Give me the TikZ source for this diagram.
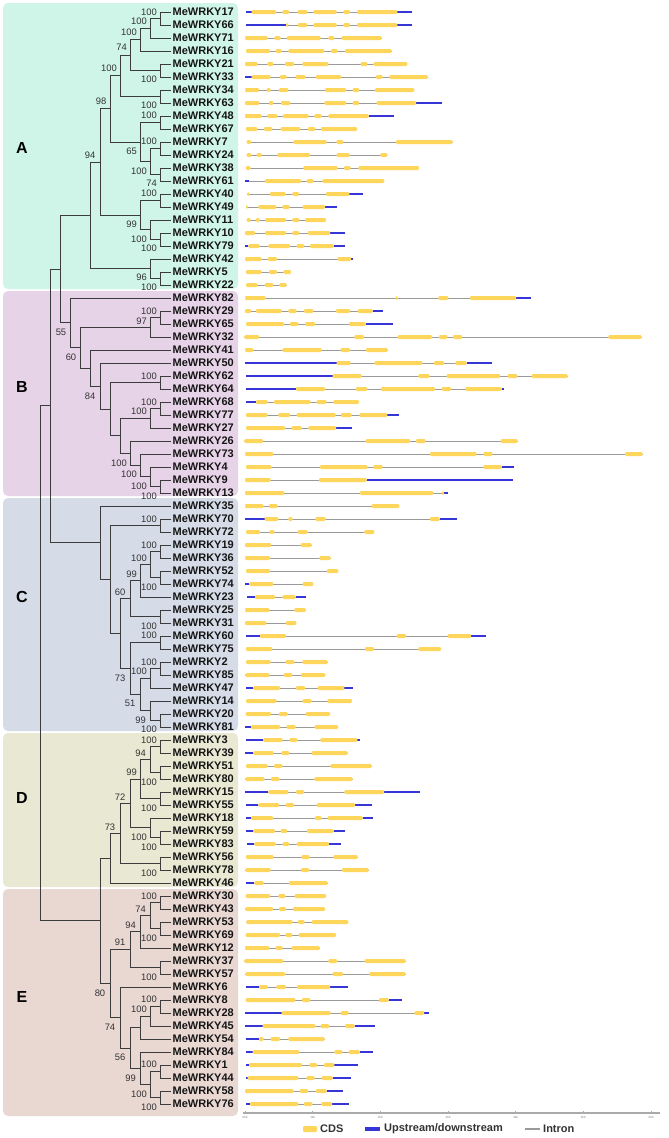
\documentclass[tikz,border=0pt]{standalone}
\usepackage{fontspec}
\setmainfont{Liberation Sans}
\definecolor{cA}{HTML}{CFF5E8}
\definecolor{cB}{HTML}{E7D3E7}
\definecolor{cC}{HTML}{D5DCE8}
\definecolor{cD}{HTML}{E8E8D3}
\definecolor{cE}{HTML}{E9D7D2}
\definecolor{exon}{HTML}{FFD65C}
\definecolor{utr}{HTML}{3636D8}
\definecolor{intr}{HTML}{9A9A9A}
\definecolor{brc}{HTML}{3C3C3C}
\definecolor{lab}{HTML}{151515}
\definecolor{bsc}{HTML}{333333}
\definecolor{axc}{HTML}{AAAAAA}
\newcommand{\clade}[3]{\draw[br] (#1) |- (#2); \draw[br] (#1) |- (#3);}
\newcommand{\gene}[5]{%
  \pgfmathsetmacro{\gy}{12+13*#1}%
  \draw[intronline] (#2,\gy) -- (#3,\gy);
  \foreach \ea/\eb in {#4}{\fill[utrbar] (\ea,\gy-1.4) rectangle (\eb,\gy+1.4);}
  \foreach \ea/\eb in {#5}{\fill[exonbar] (\ea,\gy-2) rectangle (\eb,\gy+2);}
}
\newcommand{\genex}[4]{%
  \pgfmathsetmacro{\gy}{12+13*#1}%
  \draw[intronline] (#2,\gy) -- (#3,\gy);
  \foreach \ea/\eb in {#4}{\fill[exonbar] (\ea,\gy-2) rectangle (\eb,\gy+2);}
}
\begin{document}
\begin{tikzpicture}[x=1pt,y=-1pt,
  br/.style={draw=brc,line width=0.9pt},
  leaf/.style={anchor=west,inner sep=1.5pt,font=\fontsize{11}{13}\selectfont\bfseries,text=lab},
  bsE/.style={anchor=east,inner sep=0pt,font=\fontsize{9.4}{11}\selectfont,text=bsc},
  bsC/.style={anchor=center,inner sep=0pt,font=\fontsize{9.4}{11}\selectfont,text=bsc},
  grp/.style={font=\fontsize{16}{18}\selectfont\bfseries,text=black},
  exonbar/.style={fill=exon,rounded corners=1.2pt},
  utrbar/.style={fill=utr},
  intronline/.style={draw=intr,line width=0.7pt},
  ticklab/.style={font=\fontsize{3}{3.5}\selectfont,text=gray,inner sep=0pt},
  legtext/.style={anchor=west,inner sep=0pt,font=\fontsize{11}{13}\selectfont\bfseries,text=bsc}]
\fill[white] (0,0) rectangle (669,1138);
\path[use as bounding box] (0,0) rectangle (669,1138);
% group backgrounds
\fill[cA,rounded corners=5pt] (3,3) rectangle (238,289);
\fill[cB,rounded corners=5pt] (3,291) rectangle (238,496);
\fill[cC,rounded corners=5pt] (3,498) rectangle (238,731);
\fill[cD,rounded corners=5pt] (3,733) rectangle (238,887);
\fill[cE,rounded corners=5pt] (3,889) rectangle (238,1116);
\node[grp] (gA) at (22,148) {A};
\node[grp] (gB) at (22,387) {B};
\node[grp] (gC) at (22,597) {C};
\node[grp] (gD) at (22,798) {D};
\node[grp] (gE) at (22,997) {E};
% leaves
\foreach \g [count=\i from 0] in {17,66,71,16,21,33,34,63,48,67,7,24,38,61,40,49,11,10,79,42,5,22,82,29,65,32,41,50,62,64,68,77,27,26,73,4,9,13,35,70,72,19,36,52,74,23,25,31,60,75,2,85,47,14,20,81,3,39,51,80,15,55,18,59,83,56,78,46,30,43,53,69,12,37,57,6,8,28,45,54,84,1,44,58,76}
  {\node[leaf] (L\g) at (171,{12+13*\i}) {MeWRKY\g};}
% clade A
\coordinate (n1) at (160,18.5);   \clade{n1}{L17.west}{L66.west}
\coordinate (n2) at (150,28.25);  \clade{n2}{n1}{L71.west}
\coordinate (n3) at (140,39.625); \clade{n3}{n2}{L16.west}
\coordinate (n4) at (160,70.5);   \clade{n4}{L21.west}{L33.west}
\coordinate (n5) at (130,55.06);  \clade{n5}{n3}{n4}
\coordinate (n6) at (160,96.5);   \clade{n6}{L34.west}{L63.west}
\coordinate (n7) at (120,75.78);  \clade{n7}{n5}{n6}
\coordinate (n8) at (160,122.5);  \clade{n8}{L48.west}{L67.west}
\coordinate (n9) at (160,148.5);  \clade{n9}{L7.west}{L24.west}
\coordinate (n10) at (160,174.5); \clade{n10}{L38.west}{L61.west}
\coordinate (n11) at (150,161.5); \clade{n11}{n9}{n10}
\coordinate (n12) at (140,142);   \clade{n12}{n8}{n11}
\coordinate (n13) at (110,108.89);\clade{n13}{n7}{n12}
\coordinate (n14) at (160,200.5); \clade{n14}{L40.west}{L49.west}
\coordinate (n15) at (160,239.5); \clade{n15}{L10.west}{L79.west}
\coordinate (n15b) at (150,229.75); \clade{n15b}{L11.west}{n15}
\coordinate (n15c) at (140,215.125);\clade{n15c}{n14}{n15b}
\coordinate (n16) at (100,162.0); \clade{n16}{n13}{n15c}
\coordinate (n17) at (160,278.5); \clade{n17}{L5.west}{L22.west}
\coordinate (n18) at (150,268.75);\clade{n18}{L42.west}{n17}
\coordinate (n19) at (90,215.4);  \clade{n19}{n16}{n18}
% clade B
\coordinate (b1) at (160,317.5);  \clade{b1}{L29.west}{L65.west}
\coordinate (b2) at (150,327.25); \clade{b2}{b1}{L32.west}
\coordinate (b3) at (160,382.5);  \clade{b3}{L62.west}{L64.west}
\coordinate (b4) at (160,408.5);  \clade{b4}{L68.west}{L77.west}
\coordinate (b5) at (150,418.25); \clade{b5}{b4}{L27.west}
\coordinate (b6) at (160,486.5);  \clade{b6}{L9.west}{L13.west}
\coordinate (b7) at (150,476.75); \clade{b7}{L4.west}{b6}
\coordinate (b8) at (140,465.375);\clade{b8}{L73.west}{b7}
\coordinate (b9) at (130,453.19); \clade{b9}{L26.west}{b8}
\coordinate (b10) at (120,435.72);\clade{b10}{b5}{b9}
\coordinate (b11) at (110,409.11);\clade{b11}{b3}{b10}
\coordinate (b12) at (100,386.05);\clade{b12}{L50.west}{b11}
\coordinate (b13) at (90,368.03); \clade{b13}{L41.west}{b12}
\coordinate (b14) at (80,347.64); \clade{b14}{b2}{b13}
\coordinate (b15) at (70,322.82); \clade{b15}{L82.west}{b14}
\coordinate (n20) at (60,269.1);  \clade{n20}{n19}{b15}
% clade C
\coordinate (ca) at (160,551.5);  \clade{ca}{L19.west}{L36.west}
\coordinate (cb) at (160,577.5);  \clade{cb}{L52.west}{L74.west}
\coordinate (cc) at (150,564.5);  \clade{cc}{ca}{cb}
\coordinate (cd) at (140,580.75); \clade{cd}{cc}{L23.west}
\coordinate (ce) at (160,616.5);  \clade{ce}{L25.west}{L31.west}
\coordinate (cf) at (130,598.625);\clade{cf}{cd}{ce}
\coordinate (cg) at (160,642.5);  \clade{cg}{L60.west}{L75.west}
\coordinate (ch) at (160,668.5);  \clade{ch}{L2.west}{L85.west}
\coordinate (ci) at (150,678.25); \clade{ci}{ch}{L47.west}
\coordinate (cj) at (160,720.5);  \clade{cj}{L20.west}{L81.west}
\coordinate (ck) at (150,710.75); \clade{ck}{L14.west}{cj}
\coordinate (cl) at (140,694.5);  \clade{cl}{ci}{ck}
\coordinate (cm) at (130,668.5);  \clade{cm}{cg}{cl}
\coordinate (cn) at (120,633.56); \clade{cn}{cf}{cm}
\coordinate (cp) at (160,525.5);  \clade{cp}{L70.west}{L72.west}
\coordinate (co) at (110,579.53); \clade{co}{cp}{cn}
\coordinate (cr) at (100,542.77); \clade{cr}{L35.west}{co}
\coordinate (n21) at (50,405.9);  \clade{n21}{n20}{cr}
% clade D
\coordinate (d1) at (160,746.5);  \clade{d1}{L3.west}{L39.west}
\coordinate (d2) at (160,772.5);  \clade{d2}{L51.west}{L80.west}
\coordinate (d3) at (150,759.5);  \clade{d3}{d1}{d2}
\coordinate (d4) at (160,798.5);  \clade{d4}{L15.west}{L55.west}
\coordinate (d5) at (140,779);    \clade{d5}{d3}{d4}
\coordinate (d6) at (160,837.5);  \clade{d6}{L59.west}{L83.west}
\coordinate (d7) at (150,827.75); \clade{d7}{L18.west}{d6}
\coordinate (d8) at (130,803.375);\clade{d8}{d5}{d7}
\coordinate (d9) at (160,863.5);  \clade{d9}{L56.west}{L78.west}
\coordinate (d10) at (120,833.44);\clade{d10}{d8}{d9}
\coordinate (d11) at (110,858.22);\clade{d11}{d10}{L46.west}
% clade E
\coordinate (e1) at (160,902.5);  \clade{e1}{L30.west}{L43.west}
\coordinate (e2) at (160,928.5);  \clade{e2}{L53.west}{L69.west}
\coordinate (e3) at (150,915.5);  \clade{e3}{e1}{e2}
\coordinate (e4) at (140,931.75); \clade{e4}{e3}{L12.west}
\coordinate (e5) at (160,967.5);  \clade{e5}{L37.west}{L57.west}
\coordinate (e6) at (130,949.625);\clade{e6}{e4}{e5}
\coordinate (e7) at (160,1006.5); \clade{e7}{L8.west}{L28.west}
\coordinate (e8) at (150,1016.25);\clade{e8}{e7}{L45.west}
\coordinate (e9) at (140,1027.625);\clade{e9}{e8}{L54.west}
\coordinate (e10) at (160,1071.5);\clade{e10}{L1.west}{L44.west}
\coordinate (e11) at (160,1097.5);\clade{e11}{L58.west}{L76.west}
\coordinate (e12) at (150,1084.5);\clade{e12}{e10}{e11}
\coordinate (e13) at (140,1068.25);\clade{e13}{L84.west}{e12}
\coordinate (e14) at (130,1047.94);\clade{e14}{e9}{e13}
\coordinate (e15) at (120,1017.47);\clade{e15}{L6.west}{e14}
\coordinate (e16) at (110,983.55);\clade{e16}{e6}{e15}
\coordinate (de) at (100,920.89); \clade{de}{d11}{e16}
\coordinate (root) at (40,663.4); \clade{root}{n21}{de}
% bootstrap values
\foreach \bx/\by/\bt [count=\k] in {157/12/100,147/21/100,137/32/100,127/47/74,117/68/100,157/79/100,157/105/100,157/115/100,157/141/100,137/151/65,147/171/100,157/183/74,157/193/100,137/224/99,147/239/100,157/248/100,147/277/96,157/287/100,
157/311/100,147/321/97,157/376/100,157/402/100,147/411/100,127/463/100,137/474/100,147/486/100,157/496/100,
157/519/100,157/545/100,147/558/100,137/574/99,157/587/100,157/626/100,157/635/100,157/662/100,147/671/100,146/720/99,157/729/100,
157/740/100,146/753/94,137/772/99,157/782/100,157/808/100,147/837/100,157/847/100,157/873/100,
157/896/100,146/909/74,136/925/94,157/938/100,157/977/100,157/999/100,147/1009/100,157/1064/100,136/1078/99,147/1094/100,157/1107/100}
  {\node[bsE] (bs\k) at (\bx,\by) {\bt};}
\foreach \bx/\by/\bt [count=\k] in {101/101/98,90/155/94,61/332/55,71/357/60,90/396/84,120/592/60,120/678/73,130/703/51,120/797/72,110/827/73,120/942/91,100/993/80,110/1027/74,120/1057/56}
  {\node[bsC] (bc\k) at (\bx,\by) {\bt};}
% gene structures
\begin{scope}[xshift=230pt,x=0.33333pt]
\gene{0}{48}{545}{48/65,502/545}{65/138,157/177,203/232,250/320,340/360,381/502}
\gene{1}{48}{545}{48/168,502/545}{168/175,203/232,250/320,340/360,381/502}
\genex{2}{45}{455}{45/113,133/152,170/272,295/313,335/455}
\genex{3}{48}{485}{48/120,137/155,175/283,303/323,345/485}
\genex{4}{45}{532}{45/83,112/130,165/192,217/295,392/412,430/532}
\gene{5}{45}{593}{45/65}{65/122,150/170,197/227,258/333,438/458,478/593}
\genex{6}{45}{553}{45/87,110/122,147/175,285/348,368/387,435/553}
\gene{7}{45}{637}{558/637}{45/88,117/130,153/181,283/348,368/387,440/558}
\gene{8}{45}{492}{416/492}{45/95,112/142,159/236,253/275,295/416}
\genex{9}{48}{381}{48/82,102/127,152/211,234/256,273/381}
\genex{10}{50}{668}{50/63,190/290,319/340,498/668}
\genex{11}{50}{472}{50/64,80/95,142/240,320/359,451/472}
\genex{12}{48}{567}{48/62,220/323,342/362,385/567}
\gene{13}{45}{463}{45/58}{105/213,230/251,277/463}
\gene{14}{52}{400}{358/400}{52/57,120/167,187/207,288/358}
\gene{15}{48}{320}{285/320}{48/53,85/139,157/179,218/285}
\genex{16}{50}{288}{50/62,78/89,105/168,187/208,225/288}
\gene{17}{45}{345}{300/345}{45/75,105/168,187/208,233/300}
\gene{18}{45}{345}{45/55,311/345}{55/89,115/180,200/222,240/311}
\gene{19}{45}{368}{363/368}{45/95,113/141,323/363}
\genex{20}{48}{183}{48/95,117/141,160/183}
\genex{21}{48}{170}{48/83,104/130,148/170}
\gene{22}{45}{902}{858/902}{45/107,497/503,625/655,720/858}
\gene{23}{45}{458}{428/458}{45/63,78/155,175/200,222/250,318/360,383/428}
\gene{24}{48}{488}{407/488}{48/162,180/205,225/255,357/407}
\genex{25}{43}{1235}{43/87,373/402,503/606,627/652,669/697,1135/1235}
\genex{26}{45}{473}{45/70,157/275,332/360,408/473}
\gene{27}{45}{785}{45/320,710/785}{320/362,433/577,612/642,676/710}
\gene{28}{48}{1013}{48/308}{308/395,565/599,650/810,833/862,905/1013}
\gene{29}{47}{822}{47/198,815/822}{198/285,378/412,453/615,635/663,706/815}
\gene{30}{48}{387}{48/78}{78/113,132/242,260/290,310/387}
\gene{31}{48}{508}{472/508}{48/113,145/180,200/317,333/365,388/472}
\gene{32}{48}{365}{318/365}{48/165,185/215,235/318}
\genex{33}{43}{863}{43/99,407/540,558/587,812/863}
\genex{34}{45}{1238}{45/130,600/740,760/788,1185/1238}
\gene{35}{48}{851}{815/851}{48/124,270/412,430/458,760/815}
\gene{36}{45}{848}{410/848}{45/122,267/410}
\gene{37}{45}{655}{642/655}{45/163,390/610,636/642}
\genex{38}{45}{508}{45/100,117/143,425/508}
\gene{39}{45}{680}{45/104,629/680}{104/145,175/188,256/287,600/629}
\genex{40}{48}{433}{48/90,119/133,203/233,403/433}
\genex{41}{45}{245}{45/123,212/245}
\genex{42}{45}{302}{45/120,268/302}
\genex{43}{48}{325}{48/120,291/325}
\gene{44}{45}{250}{45/58}{58/130,218/250}
\gene{45}{50}{227}{50/75,197/227}{75/135,157/197}
\genex{46}{45}{227}{45/118,193/227}
\genex{47}{45}{199}{45/109,167/199}
\gene{48}{48}{769}{48/90,723/769}{90/168,500/528,653/723}
\genex{49}{48}{633}{48/127,405/432,565/633}
\genex{50}{48}{293}{48/122,167/193,217/293}
\genex{51}{46}{286}{46/118,161/187,213/286}
\gene{52}{47}{368}{47/70,343/368}{70/150,198/225,263/343}
\genex{53}{48}{366}{48/140,217/245,292/366}
\genex{54}{47}{300}{47/123,147/173,227/300}
\gene{55}{46}{324}{46/63}{63/150,170/197,254/324}
\gene{56}{48}{389}{48/100,382/389}{100/158,178/202,271/382}
\gene{57}{46}{353}{46/70}{70/131,154/178,245/353}
\genex{58}{48}{425}{48/113,132/157,301/425}
\genex{59}{46}{368}{46/103,123/148,253/368}
\gene{60}{45}{569}{45/115,462/569}{115/175,198/222,343/462}
\gene{61}{48}{425}{48/85,375/425}{85/147,167/192,260/375}
\gene{62}{48}{429}{48/63,398/429}{63/129,255/274,293/398}
\gene{63}{48}{345}{48/70,311/345}{70/135,152/171,231/311}
\gene{64}{50}{332}{50/73,297/332}{73/137,158/177,200/297}
\genex{65}{48}{383}{48/131,214/239,310/383}
\genex{66}{46}{416}{46/122,213/237,336/416}
\gene{67}{48}{293}{48/73}{73/101,177/293}
\genex{68}{47}{288}{47/120,145/166,194/288}
\genex{69}{46}{285}{46/129,147/168,189/285}
\genex{70}{49}{355}{49/188,204/224,245/355}
\genex{71}{47}{318}{47/150,166/187,206/318}
\genex{72}{45}{269}{45/118,137/158,185/269}
\genex{73}{43}{527}{43/160,295/321,404/527}
\genex{74}{46}{527}{46/165,308/339,418/527}
\gene{75}{48}{355}{48/87,300/355}{87/113,139/168,201/300}
\gene{76}{47}{516}{476/516}{47/196,216/241,447/476}
\gene{77}{45}{598}{45/155,582/598}{155/302,332/356,553/582}
\gene{78}{45}{436}{45/98,374/436}{98/256,272/297,345/374}
\gene{79}{47}{284}{47/87}{87/101,122/150,175/284}
\gene{80}{48}{429}{48/68,389/429}{68/208,313/337,356/389}
\gene{81}{48}{383}{48/57,313/383}{57/216,238/261,282/313}
\gene{82}{48}{362}{48/53,308/362}{53/205,229/254,275/308}
\gene{83}{45}{338}{290/338}{45/191,209/234,258/290}
\gene{84}{48}{357}{48/60,306/357}{60/205,222/247,274/306}
% scale axis
\coordinate (ax0) at (40,1113);
\coordinate (ax1) at (1290,1113);
\draw[draw=axc,line width=1.1pt] (ax0) -- (ax1);
\foreach \t [count=\k from 0] in {45,248,451,654,857,1060,1263}
  {\draw[draw=axc,line width=0.5pt] (\t,1111) -- (\t,1113);
   \node[ticklab] (tk\k) at (\t,1117) {\k kb};}
\end{scope}
% legend
\fill[exonbar] (303,1126) rectangle (317,1132);
\node[legtext] (lg1) at (320,1129) {CDS};
\fill[utrbar] (365,1127) rectangle (380,1131);
\node[legtext] (lg2) at (384,1129) {Upstream/downstream};
\draw[draw=intr,line width=1.1pt] (525,1129) -- (540,1129);
\node[legtext] (lg3) at (543,1129) {Intron};
\end{tikzpicture}
\end{document}
